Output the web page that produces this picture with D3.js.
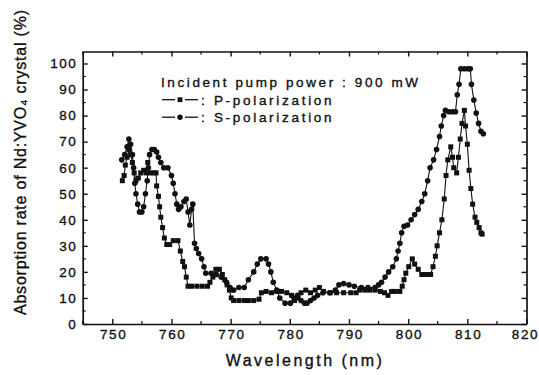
<!DOCTYPE html>
<html><head><meta charset="utf-8">
<script src="https://cdn.jsdelivr.net/npm/d3@7/dist/d3.min.js"></script>
<style>
html,body{margin:0;padding:0;background:#fff;}
text{font-family:"Liberation Sans",Arial,sans-serif;fill:#111;stroke:#111;stroke-width:0.35px;}
</style></head><body>
<svg id="c" width="539" height="375"></svg>
<script>
const xTicks = [750,760,770,780,790,800,810,820];
const yTicks = [0,10,20,30,40,50,60,70,80,90,100];
const legendTitle = "Incident pump power : 900 mW";
const seriesNames = ["P-polarization","S-polarization"];

const pWave = [751.7,752.0,752.2,752.5,752.8,753.1,753.4,753.7,754.0,754.4,754.8,755.3,755.7,756.0,756.4,757.0,757.4,757.5,757.8,758.0,758.2,758.5,758.8,759.2,759.7,760.3,761.1,761.5,761.9,762.2,762.5,762.8,763.4,764.3,765.2,766.1,766.5,767.0,767.5,768.1,768.6,769.0,769.4,769.8,770.1,770.5,771.4,772.3,773.0,773.9,774.8,775.2,776.0,776.9,777.8,778.6,779.5,780.3,780.8,781.4,781.9,782.7,783.5,784.3,785.0,785.7,786.8,787.9,789.1,790.3,791.2,791.8,792.7,793.5,794.4,795.3,796.0,796.6,797.2,797.8,798.6,799.0,799.3,799.6,800.1,800.7,801.1,801.7,802.3,803.1,803.8,804.2,804.6,804.9,805.3,805.7,806.1,806.4,806.7,807.2,807.5,807.7,808.2,808.5,808.8,809.1,809.5,809.7,810.0,810.3,810.6,810.9,811.3,811.6,812.0,812.3,812.5];
const pVal = [55,57,61,64,67,65,62,58,55,56,58,59,58,62,58,58,58,53,49,45,41,37,33,30.5,30.5,32,32,28,24,22,18,14.5,14.5,14.5,14.5,14.5,16,18,21,21,19,17,15,13,10,9,9,9,9,9,9.5,12,12.5,12,12.5,12.5,12,11,9,10,12,13,12,13,14,12.5,12,12,12,12,12,13,13,13,13,12.5,12,11,12.5,12.5,12.5,14.5,17,19.5,22,25,23,21,19,19,19,22,26,30,35,40,48,57,63,68,64,60,58,64,71,77,82,76,69,59,52,46,41,39,37,35,34.5];

const sWave = [751.6,752.1,752.5,752.8,753.1,753.4,753.6,753.8,754.0,754.3,754.6,755.0,755.3,755.6,755.9,756.1,756.3,756.7,757.1,757.5,757.8,758.2,758.7,759.4,760.0,760.3,760.6,760.9,761.2,761.6,762.1,762.5,762.8,763.1,763.4,763.6,763.9,764.2,764.6,765.1,765.5,765.8,766.7,767.6,768.4,769.3,769.9,770.5,771.4,772.3,773.0,773.9,774.5,775.1,776.0,776.4,776.8,777.2,777.8,778.3,779.2,780.1,780.7,781.3,781.9,782.5,782.9,783.5,784.1,784.7,785.6,786.8,787.7,788.3,789.1,790.0,790.9,792.1,793.2,794.4,795.0,795.5,796.1,796.7,797.4,798.0,798.3,798.6,798.9,799.3,799.9,800.5,801.1,801.7,802.3,802.8,803.3,803.7,804.3,804.8,805.3,805.6,806.0,806.3,806.9,807.5,808.0,808.3,808.6,808.9,809.5,810.1,810.5,810.7,811.1,811.5,811.9,812.3,812.7];
const sVal = [63,65,68,71,69,65,60,54,50,46,43,43,45,50,55,60,65,67,67,66,64,62,60,60,57,54,50,46,44,45,47,48,43,38,44,46,31,29,27,25,22,19.5,19.5,19,18,16,14,13,14,14,17,20,23,25,25,23,20,16,13,10,8,8,10,11,9,8,8,9,10,11,12,12,13,15,15.5,15,14.5,14,14,14,15,16,18,20,22,25,28,31,35,37.5,38,40,42,44,47,50,55,60,63,67,72,76,80,82,81.5,81.5,81.5,88,92,98,98,98,98,92,86,81,77,74,73];

const svg = d3.select("#c");
const L=82.7, R=526.5, T=51.5, B=324;
const x = d3.scaleLinear().domain([745,820]).range([L,R]);
const y = d3.scaleLinear().domain([0,104.6]).range([B,T]);

const minorX = d3.range(745,821,5).filter(v=>v%10!==0);
const minorY = d3.range(5,105,10);

function styleAxis(g){
  g.select(".domain").attr("stroke","#111").attr("stroke-width",1.7);
  g.selectAll(".tick line").attr("stroke","#111").attr("stroke-width",1.4);
}
const gb = svg.append("g").attr("transform",`translate(0,${B})`)
  .call(d3.axisBottom(x).tickValues(xTicks).tickSizeInner(-5).tickSizeOuter(0).tickPadding(5).tickFormat(d3.format("d")));
styleAxis(gb);
gb.selectAll(".tick text").attr("font-size",13.5).attr("letter-spacing","1.6px").attr("dx",d=>d===820?"-1.5px":"0.8px").attr("fill","#111")
  .attr("font-family","Liberation Sans, Arial, sans-serif");
const gl = svg.append("g").attr("transform",`translate(${L},0)`)
  .call(d3.axisLeft(y).tickValues(yTicks).tickSizeInner(-5).tickSizeOuter(0).tickPadding(7).tickFormat(d3.format("d")));
styleAxis(gl);
gl.selectAll(".tick text").attr("font-size",13.5).attr("letter-spacing","1.5px").attr("dx","1.5px").attr("fill","#111")
  .attr("font-family","Liberation Sans, Arial, sans-serif");
const gt = svg.append("g").attr("transform",`translate(0,${T})`)
  .call(d3.axisTop(x).tickValues(xTicks).tickSizeInner(-5).tickSizeOuter(0).tickFormat(""));
styleAxis(gt);
const gr = svg.append("g").attr("transform",`translate(${R},0)`)
  .call(d3.axisRight(y).tickValues(yTicks).tickSizeInner(-5).tickSizeOuter(0).tickFormat(""));
styleAxis(gr);
[[B,-3],[T,3]].forEach(([yy,d])=>{
  svg.append("g").selectAll("line").data(minorX).join("line")
    .attr("x1",v=>x(v)).attr("x2",v=>x(v)).attr("y1",yy).attr("y2",yy+d)
    .attr("stroke","#111").attr("stroke-width",1.2);
});
[[L,3],[R,-3]].forEach(([xx,d])=>{
  svg.append("g").selectAll("line").data(minorY).join("line")
    .attr("y1",v=>y(v)).attr("y2",v=>y(v)).attr("x1",xx).attr("x2",xx+d)
    .attr("stroke","#111").attr("stroke-width",1.2);
});

const pData = pWave.map((w,i)=>({w,v:pVal[i]}));
const sData = sWave.map((w,i)=>({w,v:sVal[i]}));
const line = d3.line().x(d=>x(d.w)).y(d=>y(d.v));
svg.append("path").datum(pData).attr("d",line).attr("fill","none").attr("stroke","#111").attr("stroke-width",1.1);
svg.append("path").datum(sData).attr("d",line).attr("fill","none").attr("stroke","#111").attr("stroke-width",1.1);
svg.append("g").selectAll("rect").data(pData).join("rect")
  .attr("x",d=>x(d.w)-2.5).attr("y",d=>y(d.v)-2.5).attr("width",5).attr("height",5).attr("fill","#111");
svg.append("g").selectAll("circle").data(sData).join("circle")
  .attr("cx",d=>x(d.w)).attr("cy",d=>y(d.v)).attr("r",2.8).attr("fill","#111");

const lg = svg.append("g");
lg.append("text").attr("x",161).attr("y",87).attr("font-size",13.5).attr("letter-spacing","2.6px").text(legendTitle);
const rows=[{y:104.5,name:seriesNames[0],m:"sq"},{y:122,name:seriesNames[1],m:"ci"}];
rows.forEach(r=>{
  const ly=r.y-4.8;
  lg.append("line").attr("x1",162).attr("x2",175).attr("y1",ly).attr("y2",ly).attr("stroke","#111").attr("stroke-width",1.3);
  lg.append("line").attr("x1",185).attr("x2",198).attr("y1",ly).attr("y2",ly).attr("stroke","#111").attr("stroke-width",1.3);
  if(r.m==="sq") lg.append("rect").attr("x",177.6).attr("y",ly-2.4).attr("width",4.8).attr("height",4.8).attr("fill","#111");
  else lg.append("circle").attr("cx",180).attr("cy",ly).attr("r",2.7).attr("fill","#111");
  lg.append("text").attr("x",201).attr("y",r.y).attr("font-size",13.5).attr("letter-spacing","2.7px").text(": "+r.name);
});

svg.append("text").attr("x",305).attr("y",366).attr("text-anchor","middle").attr("font-size",16)
  .attr("letter-spacing","2.5px").text("Wavelength (nm)");
svg.append("text").attr("transform","translate(26,315) rotate(-90)").attr("x",0).attr("y",0)
  .attr("font-size",16).attr("textLength",305).attr("lengthAdjust","spacing")
  .text("Absorption rate of Nd:YVO₄ crystal (%)");
</script>
</body></html>
